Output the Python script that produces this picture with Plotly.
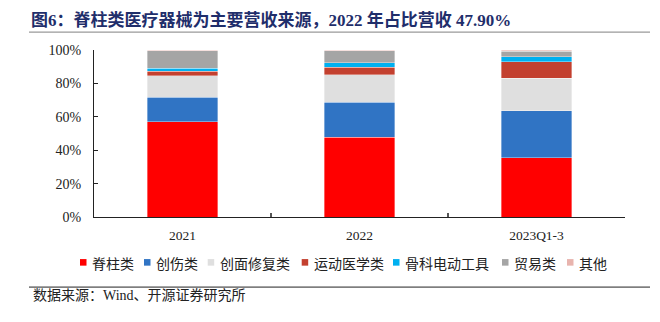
import plotly.graph_objects as go

# ---------------- data ----------------
categories = ["2021", "2022", "2023Q1-3"]
series_names = ["脊柱类", "创伤类", "创面修复类", "运动医学类", "骨科电动工具", "贸易类", "其他"]
spine = [56.9, 47.9, 35.6]
trauma = [14.7, 20.9, 28.1]
wound = [13.0, 16.4, 19.3]
sports = [2.6, 4.5, 10.0]
power_tools = [1.9, 2.6, 3.1]
trade = [10.6, 7.4, 3.2]
other = [0.3, 0.3, 0.7]
y_ticks = [0, 20, 40, 60, 80, 100]
y_tick_labels = ["0%", "20%", "40%", "60%", "80%", "100%"]

series_values = [spine, trauma, wound, sports, power_tools, trade, other]
colors = ["#FF0000", "#3074C4", "#DFDFDF", "#C3402F", "#00B0F0", "#A5A5A5", "#E8B4AE"]

# ---------------- layout geometry (pixels) ----------------
W, H = 660, 322
L, R = 94, 625          # plot area left/right
T, B = 49.5, 217        # plot area top/bottom

def px2x(px):
    return (px - L) / (R - L)

def py2y(py):
    return (B - py) / (B - T)

serif_cjk = "Liberation Serif, 'Noto Sans CJK SC'"
cjk = "'Noto Sans CJK SC', Liberation Serif"

fig = go.Figure()
for name, vals, col in zip(series_names, series_values, colors):
    fig.add_trace(go.Bar(
        x=categories, y=vals, name=name,
        marker=dict(color=col, line=dict(color="rgba(255,255,255,0.45)", width=0.8)),
        width=0.4, showlegend=False,
    ))

shapes = []
annotations = []

# title underline
shapes.append(dict(type="line", xref="paper", yref="paper",
                   x0=px2x(29), x1=px2x(650), y0=py2y(31.5), y1=py2y(31.5),
                   line=dict(color="#9a9a9a", width=1.2)))
# source line
shapes.append(dict(type="line", xref="paper", yref="paper",
                   x0=px2x(29), x1=px2x(650), y0=py2y(287.3), y1=py2y(287.3),
                   line=dict(color="#222222", width=1)))

# custom legend
legend_marker_px = [80, 144, 207.7, 301.7, 393, 502, 567]
legend_y = 262.5
for name, col, mx in zip(series_names, colors, legend_marker_px):
    shapes.append(dict(type="rect", xref="paper", yref="paper",
                       x0=px2x(mx), x1=px2x(mx + 6.5),
                       y0=py2y(legend_y - 3.3), y1=py2y(legend_y + 3.3),
                       fillcolor=col, line=dict(width=0)))
    annotations.append(dict(xref="paper", yref="paper", x=px2x(mx + 10), y=py2y(legend_y + 0.5),
                            xanchor="left", yanchor="middle", showarrow=False,
                            text=name, font=dict(family=cjk, size=14, color="#222222")))

# source
annotations.append(dict(xref="paper", yref="paper", x=px2x(31), y=py2y(295.5),
                        xanchor="left", yanchor="middle", showarrow=False,
                        text="数据来源：Wind、开源证券研究所",
                        font=dict(family=serif_cjk, size=14, color="#222222")))

fig.update_layout(
    width=W, height=H,
    margin=dict(l=L, r=W - R, t=T, b=H - B, pad=0),
    paper_bgcolor="white", plot_bgcolor="white",
    barmode="stack", bargap=0.6,
    title=dict(text="图6：脊柱类医疗器械为主要营收来源，2022 年占比营收 47.90%",
               x=31 / W, xanchor="left", xref="container",
               y=1 - 20 / H, yanchor="middle", yref="container",
               font=dict(family=serif_cjk, size=17, color="#1F2E6B", weight="bold")),
    shapes=shapes, annotations=annotations,
    showlegend=False,
    xaxis=dict(
        type="category", showgrid=False, showline=True, linecolor="#222222", linewidth=1.2,
        ticks="inside", ticklen=4, tickcolor="#555555", tickwidth=1.5, tickson="boundaries",
        tickfont=dict(family=serif_cjk, size=13.5, color="#222222"),
        ticklabelstandoff=6, zeroline=False,
    ),
    yaxis=dict(
        range=[0, 100], tickmode="array", tickvals=y_ticks, ticktext=y_tick_labels,
        showgrid=False,
        showline=True, linecolor="#222222", linewidth=1.2,
        ticks="inside", ticklen=4, tickcolor="#222222", tickwidth=1,
        tickfont=dict(family=serif_cjk, size=14, color="#222222"),
        ticklabelstandoff=9, zeroline=False,
    ),
)

fig.write_html("out.html")
